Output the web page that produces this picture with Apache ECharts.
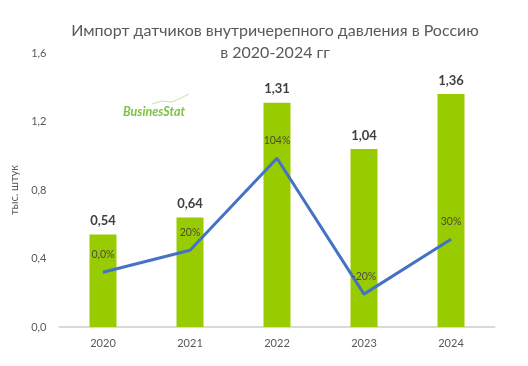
<!DOCTYPE html>
<html>
<head>
<meta charset="utf-8">
<script src="https://cdn.jsdelivr.net/npm/echarts@6/dist/echarts.min.js"></script>
<style>html,body{margin:0;padding:0;background:#fff}#c{width:528px;height:366px}</style>
</head>
<body>
<div id="c"></div>
<script>
const categories = ['2020', '2021', '2022', '2023', '2024'];
const importValues = [0.54, 0.64, 1.31, 1.04, 1.36];
const growthPct = [0, 20, 104, -20, 30];
const growthLabels = ['0,0%', '20%', '104%', '-20%', '30%'];
const yTicks = [0, 0.4, 0.8, 1.2, 1.6];

const chart = echarts.init(document.getElementById('c'), null, {renderer: 'canvas'});
const FONT = 'Lato';
chart.setOption({
  animation: false,
  textStyle: {fontFamily: FONT},
  title: {
    text: 'Импорт датчиков внутричерепного давления в Россию\nв 2020-2024 гг',
    left: 270, top: 15, textAlign: 'center',
    textStyle: {fontFamily: FONT, fontSize: 16, fontWeight: 'normal', color: '#595959', lineHeight: 22}
  },
  grid: {left: 59.5, right: 33.5, top: 53, bottom: 39},
  xAxis: {
    type: 'category', data: categories,
    axisLine: {lineStyle: {color: '#d9d9d9', width: 2}},
    axisTick: {show: false},
    axisLabel: {color: '#595959', fontSize: 11, margin: 11, fontFamily: FONT}
  },
  yAxis: [{
    type: 'value', min: 0, max: 1.6, interval: 0.4,
    name: 'тыс. штук', nameLocation: 'middle', nameGap: 40, nameRotate: 90,
    nameTextStyle: {color: '#595959', fontSize: 11, fontFamily: FONT},
    axisLine: {show: false}, axisTick: {show: false}, splitLine: {show: false},
    axisLabel: {color: '#595959', fontSize: 11, margin: 13, fontFamily: FONT,
      formatter: v => v.toFixed(1).replace('.', ',')}
  }, {
    type: 'value', min: -50, max: 200, show: false, splitLine: {show: false}
  }],
  series: [{
    type: 'bar', data: importValues, barWidth: 27,
    itemStyle: {color: '#99cc00'},
    label: {show: true, position: 'top', distance: 7, color: '#404040', fontWeight: 'bold', fontSize: 13,
      fontFamily: FONT, formatter: p => p.value.toFixed(2).replace('.', ',')}
  }, {
    type: 'line', yAxisIndex: 1, data: growthPct, z: 3,
    symbol: 'circle', symbolSize: 1, showSymbol: true,
    itemStyle: {color: '#4472c4'},
    lineStyle: {color: '#4472c4', width: 3},
    label: {show: true, position: 'top', distance: 12, color: '#4a4a3a', fontSize: 10.5, fontFamily: FONT,
      formatter: p => growthLabels[p.dataIndex]}
  }],
  graphic: [{
    type: 'text', left: 123, top: 105,
    style: {text: 'BusinesStat', font: 'italic bold 12.5px Lato', fill: '#7dc242'}
  }, {
    type: 'polyline', shape: {points: [[152, 104], [162, 101], [172, 102], [181, 98], [189, 94]]},
    style: {stroke: '#c5e3a6', lineWidth: 1, fill: null}
  }]
});
</script>
</body>
</html>
